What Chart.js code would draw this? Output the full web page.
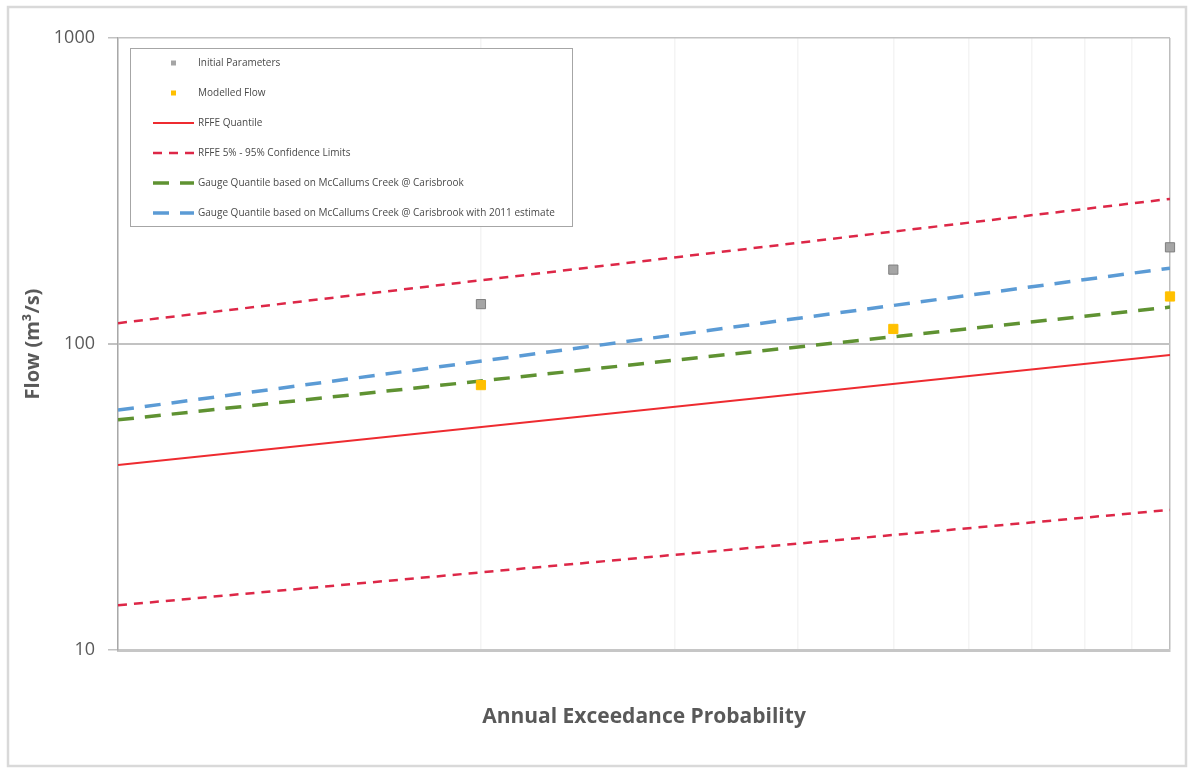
<!DOCTYPE html>
<html>
<head>
<meta charset="utf-8">
<title>AEP flow comparison</title>
<script src="https://cdn.jsdelivr.net/npm/chart.js@4.4.1/dist/chart.umd.min.js"></script>
<style>
html, body { margin: 0; padding: 0; background: #fff; }
canvas { display: block; }
</style>
</head>
<body>
<canvas id="aepChart" width="1192" height="773"></canvas>
<script>
"use strict";

// plotting positions along the AEP axis (0 = left edge, 1 = right edge)
const aepPos = [0.345, 0.737, 1.0];
const lineEnds = [0, 1];
// vertical grid lines of the AEP axis
const xGrid = [0, 0.345, 0.529, 0.646, 0.737, 0.809, 0.869, 0.919, 0.964, 1.0];
const yTicks = [10, 100, 1000];

// flows in m3/s
const initialParams = [135, 175, 207];
const modelledFlow = [73.4, 112, 143];
const rffeQuantile = [40.2, 92];
const rffeUpper = [117, 298];
const rffeLower = [14.0, 28.7];
const gaugeQuantile = [56.5, 132];
const gauge2011 = [60.8, 177];

const pts = (xs, ys) => xs.map((x, i) => ({x: x, y: ys[i]}));

const FONT = "'Open Sans', 'Liberation Sans', sans-serif";
const GREY_TXT = "#595959";

// white page with a light frame round it
const pageFrame = {
    id: "pageFrame",
    beforeDraw(chart) {
        const ctx = chart.ctx;
        ctx.save();
        ctx.fillStyle = "#fff";
        ctx.fillRect(0, 0, chart.width, chart.height);
        ctx.strokeStyle = "#d9d9d9";
        ctx.lineWidth = 2.5;
        ctx.strokeRect(8, 7, 1178, 759);
        ctx.restore();
    }
};

// boxed legend inside the plot, top left
const legendBox = {
    id: "legendBox",
    afterDraw(chart) {
        const ctx = chart.ctx;
        ctx.save();
        ctx.fillStyle = "#fff";
        ctx.fillRect(130.5, 48.5, 442, 178);
        ctx.strokeStyle = "#a6a6a6";
        ctx.lineWidth = 1;
        ctx.strokeRect(130.5, 48.5, 442, 178);
        ctx.font = "10px " + FONT;
        ctx.textBaseline = "middle";
        let row = 0;
        chart.data.datasets.forEach(ds => {
            if (ds.inLegend === false) return;
            const cy = 63 + row * 30;
            row++;
            if (ds.showLine) {
                ctx.strokeStyle = ds.borderColor;
                ctx.lineWidth = ds.borderWidth;
                ctx.setLineDash(ds.borderDash || []);
                ctx.beginPath();
                ctx.moveTo(153, cy);
                ctx.lineTo(194, cy);
                ctx.stroke();
                ctx.setLineDash([]);
            } else {
                ctx.fillStyle = ds.backgroundColor;
                ctx.fillRect(171, cy - 2.5, 5, 5);
            }
            ctx.fillStyle = "#4a4a4a";
            ctx.fillText(ds.label, 198, cy);
        });
        ctx.restore();
    }
};

const ctx = document.getElementById("aepChart").getContext("2d");
const aepChart = new Chart(ctx, {
    type: "scatter",
    data: {
        datasets: [{
            label: "Initial Parameters",
            data: pts(aepPos, initialParams),
            pointStyle: "rect",
            pointRadius: 6.5,
            backgroundColor: "#a5a5a5",
            borderColor: "#7f7f7f",
            borderWidth: 1,
            clip: false,
            order: 0
        }, {
            label: "Modelled Flow",
            data: pts(aepPos, modelledFlow),
            pointStyle: "rect",
            pointRadius: 6.5,
            backgroundColor: "#ffc000",
            borderColor: "#ffc000",
            borderWidth: 1,
            clip: false,
            order: 0
        }, {
            label: "RFFE Quantile",
            data: pts(lineEnds, rffeQuantile),
            showLine: true,
            pointRadius: 0,
            borderColor: "#ee2b30",
            borderWidth: 2,
            order: 2
        }, {
            label: "RFFE 5% - 95% Confidence Limits",
            data: pts(lineEnds, rffeUpper),
            showLine: true,
            pointRadius: 0,
            borderColor: "#dd2747",
            borderWidth: 2.5,
            borderDash: [9, 7],
            order: 2
        }, {
            label: "RFFE lower",
            inLegend: false,
            data: pts(lineEnds, rffeLower),
            showLine: true,
            pointRadius: 0,
            borderColor: "#dd2747",
            borderWidth: 2.5,
            borderDash: [9, 7],
            order: 2
        }, {
            label: "Gauge Quantile based on McCallums Creek @ Carisbrook",
            data: pts(lineEnds, gaugeQuantile),
            showLine: true,
            pointRadius: 0,
            borderColor: "#5f9232",
            borderWidth: 3.5,
            borderDash: [16, 11],
            order: 1
        }, {
            label: "Gauge Quantile based on McCallums Creek @ Carisbrook with 2011 estimate",
            data: pts(lineEnds, gauge2011),
            showLine: true,
            pointRadius: 0,
            borderColor: "#5b9bd5",
            borderWidth: 3.5,
            borderDash: [16, 11],
            order: 1
        }]
    },
    options: {
        responsive: false,
        animation: false,
        devicePixelRatio: 1,
        layout: { padding: { top: 38, right: 22, bottom: 0, left: 0 } },
        plugins: {
            legend: { display: false },
            tooltip: { enabled: false }
        },
        scales: {
            x: {
                type: "linear",
                min: 0,
                max: 1,
                afterBuildTicks: s => { s.ticks = xGrid.map(v => ({value: v})); },
                ticks: { display: false },
                grid: {
                    color: c => (c.tick && c.tick.value === 1) ? "#bdbdbd" : "#f4f4f4",
                    lineWidth: 1.5,
                    drawTicks: false
                },
                border: { color: "#c6c6c6", width: 3 },
                title: {
                    display: true,
                    text: "Annual Exceedance Probability",
                    font: { family: FONT, size: 21, weight: "bold" },
                    color: GREY_TXT,
                    padding: { top: 0, bottom: 43 }
                },
                afterFit: s => { s.height = 123; }
            },
            y: {
                type: "logarithmic",
                min: 10,
                max: 1000,
                afterBuildTicks: s => { s.ticks = yTicks.map(v => ({value: v})); },
                ticks: {
                    callback: v => String(v),
                    font: { family: FONT, size: 18 },
                    color: GREY_TXT,
                    padding: 13
                },
                grid: {
                    color: "#c2c2c2",
                    lineWidth: c => (c.tick && c.tick.value === 100) ? 2 : 1.5,
                    tickLength: 10
                },
                border: { color: "#a8a8a8", width: 1.5 },
                title: {
                    display: true,
                    text: "Flow (m³/s)",
                    font: { family: FONT, size: 20, weight: "bold" },
                    color: GREY_TXT,
                    padding: { top: 21, bottom: 0 }
                },
                afterFit: s => { s.width = 118; }
            }
        }
    },
    plugins: [pageFrame, legendBox]
});
</script>
</body>
</html>
